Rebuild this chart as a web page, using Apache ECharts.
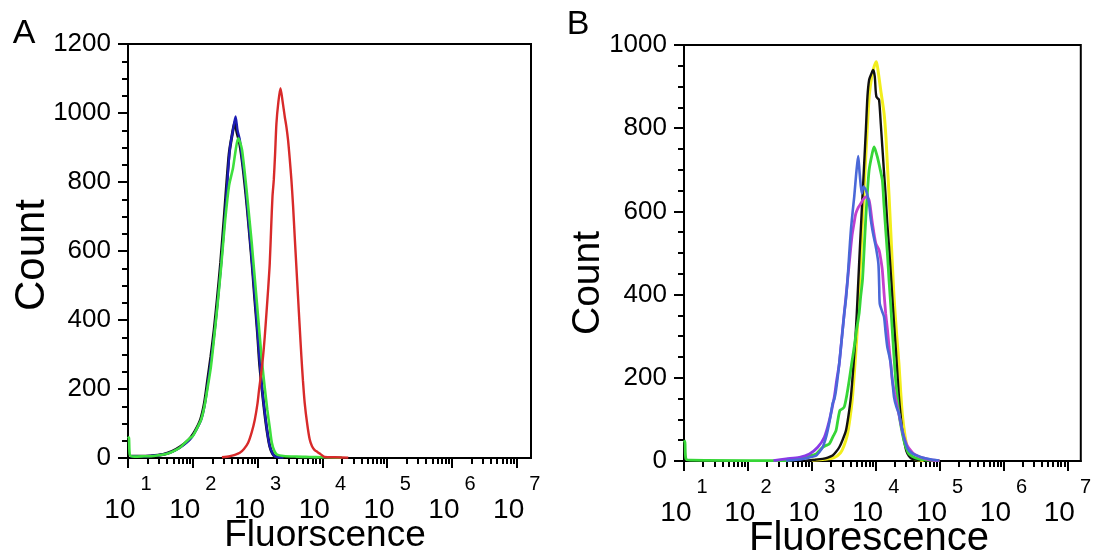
<!DOCTYPE html>
<html>
<head>
<meta charset="utf-8">
<script src="https://cdn.jsdelivr.net/npm/echarts@6/dist/echarts.min.js"></script>
<style>
html,body{margin:0;padding:0;background:#fff;}
#main{width:1094px;height:554px;}
</style>
</head>
<body>
<div id="main"></div>
<script>
// x values are log10(Fluorescence), y values are Count
const xDecades = [1, 2, 3, 4, 5, 6, 7];
const yTicksA = [0, 200, 400, 600, 800, 1000, 1200];
const yTicksB = [0, 200, 400, 600, 800, 1000];

// Panel A
const A_black = [[1.03,5],[1.18,5],[1.35,6],[1.54,10],[1.68,19],[1.80,32],[1.9,46],[1.97,60],[2.04,80],[2.12,112],[2.18,160],[2.23,227],[2.28,295],[2.33,372],[2.38,465],[2.43,566],[2.49,710],[2.56,880],[2.61,940],[2.65,975],[2.68,945],[2.72,915],[2.76,865],[2.80,800],[2.84,725],[2.88,640],[2.92,552],[2.955,465],[3.0,360],[3.03,276],[3.07,198],[3.11,130],[3.15,74],[3.19,33],[3.23,13],[3.27,5],[3.4,2]];
const A_blue = [[1.03,5],[1.18,5],[1.35,6],[1.54,10],[1.68,18],[1.80,30],[1.9,44],[1.98,59],[2.05,80],[2.13,111],[2.19,160],[2.24,227],[2.29,295],[2.34,372],[2.39,465],[2.44,566],[2.5,710],[2.57,893],[2.62,950],[2.66,990],[2.69,950],[2.726,922],[2.76,870],[2.803,806],[2.84,730],[2.88,642],[2.92,555],[2.957,468],[3.0,365],[3.034,276],[3.07,200],[3.111,132],[3.15,75],[3.188,34],[3.23,14],[3.265,5],[3.4,2]];
const A_green = [[1.0,62],[1.015,58],[1.03,8],[1.1,4],[1.25,5],[1.4,6],[1.55,10],[1.65,15],[1.75,24],[1.82,33],[1.9,48],[1.96,58],[2.0,64],[2.06,84],[2.13,112],[2.18,150],[2.23,205],[2.28,265],[2.33,350],[2.38,440],[2.44,560],[2.5,690],[2.56,790],[2.62,840],[2.66,890],[2.70,927],[2.73,915],[2.76,893],[2.80,830],[2.83,777],[2.87,700],[2.91,623],[2.95,535],[2.99,449],[3.03,360],[3.07,276],[3.11,205],[3.15,140],[3.19,85],[3.22,44],[3.26,20],[3.30,10],[3.4,6],[3.6,4],[3.8,3],[4.0,2],[4.3,1]];
const A_red = [[2.45,2],[2.572,5],[2.65,9],[2.726,15],[2.79,26],[2.854,44],[2.91,75],[2.957,111],[3.0,160],[3.023,198],[3.055,245],[3.085,295],[3.11,350],[3.137,420],[3.165,495],[3.188,565],[3.21,670],[3.23,758],[3.25,806],[3.27,880],[3.291,970],[3.32,1030],[3.353,1072],[3.385,1035],[3.419,990],[3.445,960],[3.47,922],[3.495,870],[3.522,806],[3.548,730],[3.573,642],[3.6,550],[3.624,468],[3.65,380],[3.676,295],[3.70,225],[3.727,160],[3.765,100],[3.804,54],[3.84,34],[3.881,23],[3.92,18],[3.958,13],[4.0,7],[4.035,3],[4.2,2],[4.4,1]];

// Panel B
const B_yellow = [[3.0,2],[3.2,4],[3.35,8],[3.45,20],[3.5,35],[3.555,62],[3.6,105],[3.635,150],[3.67,220],[3.71,310],[3.76,470],[3.81,630],[3.865,790],[3.9,880],[3.94,925],[3.98,950],[4.011,960],[4.04,935],[4.08,890],[4.131,836],[4.16,780],[4.182,715],[4.21,635],[4.235,555],[4.26,475],[4.287,394],[4.325,310],[4.364,234],[4.39,170],[4.416,114],[4.455,65],[4.494,33],[4.55,12],[4.62,4],[4.75,1]];
const B_black = [[2.9,1],[3.05,3],[3.17,5],[3.25,8],[3.326,13],[3.38,22],[3.43,33],[3.48,50],[3.534,73],[3.575,110],[3.612,154],[3.65,225],[3.69,314],[3.715,390],[3.741,475],[3.765,550],[3.793,635],[3.82,715],[3.846,795],[3.871,876],[3.897,916],[3.93,930],[3.96,940],[3.985,925],[4.0,890],[4.011,876],[4.03,872],[4.053,868],[4.08,810],[4.104,755],[4.13,695],[4.157,635],[4.18,575],[4.209,515],[4.235,455],[4.26,394],[4.285,335],[4.313,274],[4.34,210],[4.364,154],[4.39,110],[4.416,73],[4.45,45],[4.478,25],[4.52,12],[4.572,5],[4.7,2]];
const B_green = [[1.0,50],[1.015,45],[1.03,5],[1.1,2],[2.5,1],[2.7,3],[2.858,9],[2.95,12],[3.067,17],[3.12,25],[3.17,33],[3.22,37],[3.274,41],[3.33,58],[3.379,73],[3.41,100],[3.441,122],[3.475,125],[3.508,130],[3.55,160],[3.586,194],[3.625,235],[3.664,274],[3.7,315],[3.741,355],[3.765,395],[3.793,434],[3.82,510],[3.846,587],[3.87,645],[3.897,699],[3.94,735],[3.975,755],[4.0,745],[4.026,731],[4.065,705],[4.104,675],[4.13,615],[4.157,555],[4.185,495],[4.209,434],[4.235,375],[4.26,314],[4.285,255],[4.313,194],[4.34,150],[4.364,114],[4.4,80],[4.442,49],[4.48,30],[4.52,17],[4.6,9],[4.676,5],[4.8,2],[5.0,1]];
const B_magenta = [[2.4,1],[2.6,5],[2.807,9],[2.963,17],[3.092,33],[3.196,57],[3.274,97],[3.352,154],[3.39,195],[3.43,234],[3.481,314],[3.534,394],[3.586,475],[3.628,539],[3.66,570],[3.69,595],[3.73,610],[3.768,619],[3.8,628],[3.846,635],[3.897,627],[3.949,571],[4.002,523],[4.053,507],[4.08,485],[4.104,459],[4.13,405],[4.157,354],[4.185,315],[4.209,274],[4.235,235],[4.26,194],[4.3,160],[4.338,130],[4.38,100],[4.416,73],[4.455,52],[4.494,37],[4.55,25],[4.598,17],[4.66,12],[4.727,8],[4.85,3],[5.0,1]];
const B_blue = [[2.6,1],[2.75,3],[2.858,5],[2.95,8],[3.067,13],[3.12,22],[3.17,33],[3.21,50],[3.248,73],[3.29,105],[3.326,138],[3.355,150],[3.379,170],[3.42,220],[3.456,274],[3.48,310],[3.508,354],[3.535,390],[3.559,434],[3.585,495],[3.612,555],[3.64,600],[3.664,635],[3.695,690],[3.726,733],[3.75,690],[3.783,643],[3.81,660],[3.846,651],[3.87,640],[3.897,619],[3.92,585],[3.949,555],[3.975,535],[4.002,515],[4.042,475],[4.055,420],[4.064,378],[4.1,360],[4.131,346],[4.155,310],[4.182,274],[4.21,255],[4.235,234],[4.26,195],[4.287,154],[4.325,130],[4.364,114],[4.4,85],[4.442,57],[4.48,38],[4.52,25],[4.58,18],[4.65,13],[4.74,8],[4.832,5],[4.988,1]];

const FONT = "'Liberation Sans', Arial, sans-serif";

// log minor tick positions (2..9 within each decade)
const minorTicks = [];
for (let d = 1; d < 7; d++) for (let k = 2; k <= 9; k++) minorTicks.push(d + Math.log10(k));

function majorX(gridIndex, xmax) {
  return {
    type: 'value', gridIndex, min: 1, max: xmax, position: 'bottom',
    axisLine: { show: true, lineStyle: { color: '#000', width: 2 } },
    axisTick: { show: true, customValues: xDecades, length: 10, lineStyle: { color: '#000', width: 2 } },
    axisLabel: {
      customValues: xDecades, margin: 16, color: '#000',
      formatter: v => '{b|10}{s|' + v + '}',
      rich: {
        b: { fontSize: 28, fontFamily: FONT, color: '#000', lineHeight: 50, verticalAlign: 'bottom' },
        s: { fontSize: 20, fontFamily: FONT, color: '#000', lineHeight: 50, verticalAlign: 'top', padding: [0, 0, 0, 5] }
      }
    },
    splitLine: { show: false }
  };
}
function minorX(gridIndex, xmax) {
  return {
    type: 'value', gridIndex, min: 1, max: xmax, position: 'bottom',
    axisLine: { show: false },
    axisTick: { show: true, customValues: minorTicks, length: 6, lineStyle: { color: '#000', width: 2 } },
    axisLabel: { show: false },
    splitLine: { show: false }
  };
}
function yAx(gridIndex, ymax, ticks) {
  return {
    type: 'value', gridIndex, min: 0, max: ymax, interval: 200,
    axisLine: { show: true, lineStyle: { color: '#000', width: 2 } },
    axisTick: { show: true, length: 10, lineStyle: { color: '#000', width: 2 } },
    minorTick: { show: true, splitNumber: 4, length: 6, lineStyle: { color: '#000', width: 2 } },
    axisLabel: { customValues: ticks, fontSize: 26, fontFamily: FONT, color: '#000', margin: 17, formatter: v => String(v) },
    splitLine: { show: false }, minorSplitLine: { show: false }
  };
}
function line(data, color, xi, yi, width) {
  return {
    type: 'line', data, xAxisIndex: xi, yAxisIndex: yi, showSymbol: false, smooth: 0.25,
    lineStyle: { color, width: width || 2 }, itemStyle: { color }, silent: true, animation: false
  };
}

const chart = echarts.init(document.getElementById('main'), null, { renderer: 'canvas' });
chart.setOption({
  animation: false,
  backgroundColor: '#fff',
  grid: [
    { left: 128, top: 44, width: 403, height: 414, show: true, borderColor: '#000', borderWidth: 2, backgroundColor: 'transparent' },
    { left: 684, top: 45, width: 399, height: 416, show: true, borderColor: '#000', borderWidth: 2, backgroundColor: 'transparent' }
  ],
  xAxis: [majorX(0, 7.22), minorX(0, 7.22), majorX(1, 7.21), minorX(1, 7.21)],
  yAxis: [yAx(0, 1200, yTicksA), yAx(1, 1000, yTicksB)],
  series: [
    line(A_black, '#111111', 0, 0, 3),
    line(A_blue, '#1c1cb4', 0, 0, 2.4),
    line(A_green, '#3ee03e', 0, 0, 2.6),
    line(A_red, '#d82a2a', 0, 0, 2.4),
    line(B_yellow, '#f2ee1c', 2, 1, 3),
    line(B_black, '#111111', 2, 1, 2.4),
    line(B_green, '#36d636', 2, 1, 2.8),
    line(B_magenta, new echarts.graphic.LinearGradient(0, 0, 1, 0, [
      { offset: 0, color: '#8a3ae6' }, { offset: 0.42, color: '#8a3ae6' },
      { offset: 0.5, color: '#c640cc' }, { offset: 1, color: '#c640cc' }]), 2, 1, 2.8),
    line(B_blue, '#4a68d8', 2, 1, 2.6)
  ],
  graphic: [
    { type: 'text', x: 24, y: 34, style: { text: 'A', font: '34px ' + FONT, fill: '#000', align: 'center', verticalAlign: 'middle' } },
    { type: 'text', x: 578, y: 25, style: { text: 'B', font: '34px ' + FONT, fill: '#000', align: 'center', verticalAlign: 'middle' } },
    { type: 'text', x: 32, y: 255, rotation: Math.PI / 2, style: { text: 'Count', font: '42px ' + FONT, fill: '#000', align: 'center', verticalAlign: 'middle' } },
    { type: 'text', x: 588, y: 283, rotation: Math.PI / 2, style: { text: 'Count', font: '39px ' + FONT, fill: '#000', align: 'center', verticalAlign: 'middle' } },
    { type: 'text', x: 325, y: 536, style: { text: 'Fluorscence', font: '37px ' + FONT, fill: '#000', align: 'center', verticalAlign: 'middle' } },
    { type: 'text', x: 869, y: 539, style: { text: 'Fluorescence', font: '40px ' + FONT, fill: '#000', align: 'center', verticalAlign: 'middle' } }
  ]
});
</script>
</body>
</html>
